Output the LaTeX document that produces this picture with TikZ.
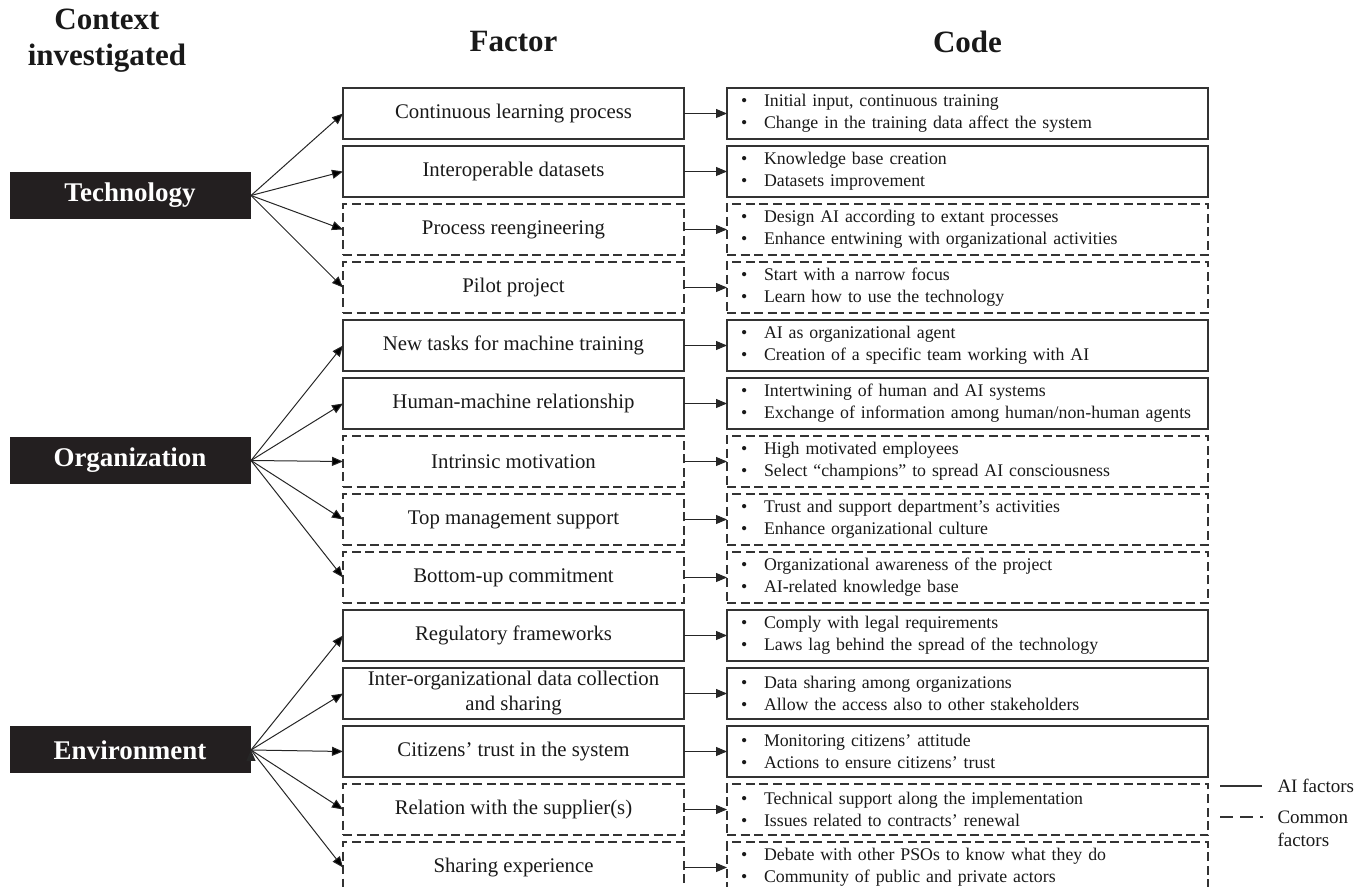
\documentclass[tikz,border=0pt]{standalone}
\usepackage{fontspec}
\setmainfont{Liberation Serif}
\usetikzlibrary{positioning,arrows.meta}
\definecolor{boxline}{HTML}{333333}
\definecolor{ctxfill}{HTML}{231F20}
\newcommand{\codes}[2]{\makebox[11.5pt][l]{\textbullet}#1\\\makebox[11.5pt][l]{\textbullet}#2}

\begin{document}
\begin{tikzpicture}[x=0.5pt,y=-0.5pt,->,>={Triangle[length=5.5pt,width=4.5pt]},line width=0.5pt,node distance=3.5pt and 21.5pt]
\tikzstyle{context}=[fill=ctxfill,text=white,font=\fontsize{13.5}{16}\selectfont\bfseries,minimum width=120.5pt,minimum height=23.5pt,inner sep=0pt]
\tikzstyle{head}=[font=\fontsize{15.5}{18}\selectfont\bfseries,align=center,text=black!90]
\tikzstyle{factor}=[draw=boxline,line width=0.9pt,outer sep=0pt,minimum width=170.5pt,minimum height=25.5pt,align=center,inner sep=0pt,text=black!90,font=\fontsize{10.4}{12.5}\selectfont]
\tikzstyle{code}=[draw=boxline,line width=0.9pt,outer sep=0pt,minimum width=240.5pt,minimum height=25.5pt,text width=226.5pt,align=left,inner xsep=7pt,inner ysep=0pt,text=black!90,font=\fontsize{8.9}{11}\selectfont]
\tikzstyle{comm}=[dash pattern=on 4.5pt off 2.25pt]
\tikzstyle{legend}=[anchor=west,align=left,inner sep=0pt,text=black!90,font=\fontsize{9.5}{11.5}\selectfont]
\useasboundingbox (0,0) rectangle (1367,887);
\clip (0,0) rectangle (1367,887);

\node[head] (ctx) at (107,41) {Context\\investigated};
\node[head] (fac) at (513.5,42) {Factor};
\node[head] (cod) at (967.5,42) {Code};

\node[context] (tech) at (130,195.5) {Technology};
\node[context] (org) at (130,460.5) {Organization};
\node[context] (env) at (130,750) {Environment};

\node[factor] (f1) at (513.5,113.5) {Continuous learning process};
\node[factor,below=of f1] (f2) {Interoperable datasets};
\node[factor,comm,below=of f2] (f3) {Process reengineering};
\node[factor,comm,below=of f3] (f4) {Pilot project};
\node[factor,below=of f4] (f5) {New tasks for machine training};
\node[factor,below=of f5] (f6) {Human-machine relationship};
\node[factor,comm,below=of f6] (f7) {Intrinsic motivation};
\node[factor,comm,below=of f7] (f8) {Top management support};
\node[factor,comm,below=of f8] (f9) {Bottom-up commitment};
\node[factor,below=of f9] (f10) {Regulatory frameworks};
\node[factor,below=of f10] (f11) {Inter-organizational data collection\\and sharing};
\node[factor,below=of f11] (f12) {Citizens’ trust in the system};
\node[factor,comm,below=of f12] (f13) {Relation with the supplier(s)};
\node[factor,comm,below=of f13] (f14) {Sharing experience};

\node[code,right=of f1] (c1) {\codes{Initial input, continuous training}{Change in the training data affect the system}};
\node[code,right=of f2] (c2) {\codes{Knowledge base creation}{Datasets improvement}};
\node[code,comm,right=of f3] (c3) {\codes{Design AI according to extant processes}{Enhance entwining with organizational activities}};
\node[code,comm,right=of f4] (c4) {\codes{Start with a narrow focus}{Learn how to use the technology}};
\node[code,right=of f5] (c5) {\codes{AI as organizational agent}{Creation of a specific team working with AI}};
\node[code,right=of f6] (c6) {\codes{Intertwining of human and AI systems}{Exchange of information among human/non-human agents}};
\node[code,comm,right=of f7] (c7) {\codes{High motivated employees}{Select “champions” to spread AI consciousness}};
\node[code,comm,right=of f8] (c8) {\codes{Trust and support department’s activities}{Enhance organizational culture}};
\node[code,comm,right=of f9] (c9) {\codes{Organizational awareness of the project}{AI-related knowledge base}};
\node[code,right=of f10] (c10) {\codes{Comply with legal requirements}{Laws lag behind the spread of the technology}};
\node[code,right=of f11] (c11) {\codes{Data sharing among organizations}{Allow the access also to other stakeholders}};
\node[code,right=of f12] (c12) {\codes{Monitoring citizens’ attitude}{Actions to ensure citizens’ trust}};
\node[code,comm,right=of f13] (c13) {\codes{Technical support along the implementation}{Issues related to contracts’ renewal}};
\node[code,comm,right=of f14] (c14) {\codes{Debate with other PSOs to know what they do}{Community of public and private actors}};

\path[draw=black!85] (tech.east) edge (f1.west) edge (f2.west) edge (f3.west) edge (f4.west)
      (org.east) edge (f5.west) edge (f6.west) edge (f7.west) edge (f8.west) edge (f9.west)
      (env.east) edge (f10.west) edge (f11.west) edge (f12.west) edge (f13.west) edge (f14.west);
\foreach \i in {1,...,14}
  \draw[black!85] (f\i) -- (c\i);

\coordinate (ls1) at (1220,786);
\coordinate (ls2) at (1262,786);
\coordinate (ld1) at (1220,817);
\coordinate (ld2) at (1263,817);
\draw[-,boxline,line width=0.9pt] (ls1) -- (ls2);
\draw[-,boxline,line width=0.9pt,dash pattern=on 6.5pt off 3.5pt] (ld1) -- (ld2);
\node[legend] (lai) at (1277,786) {AI factors};
\node[legend] (lcom) at (1277,828.5) {Common\\factors};
\end{tikzpicture}
\end{document}
